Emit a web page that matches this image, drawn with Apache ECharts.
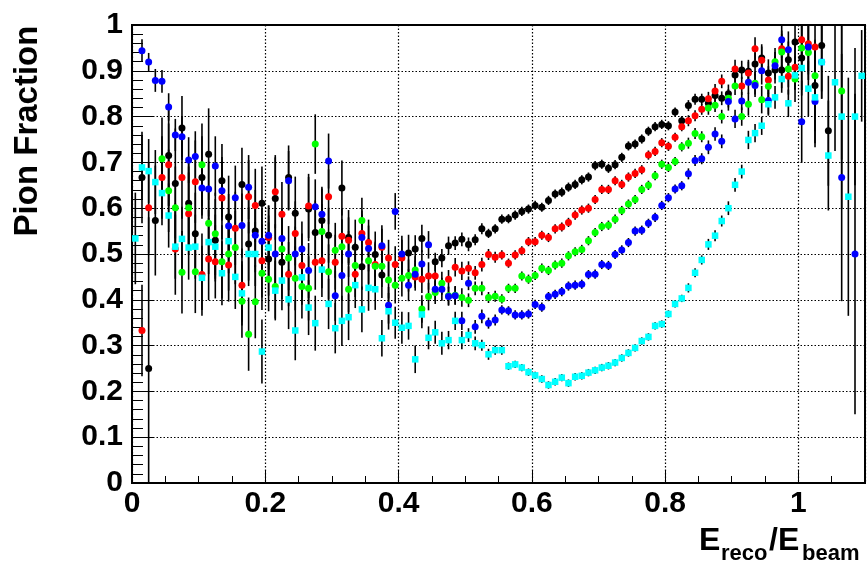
<!DOCTYPE html>
<html>
<head>
<meta charset="utf-8">
<script src="https://cdn.jsdelivr.net/npm/echarts@6/dist/echarts.min.js"></script>
<style>html,body{margin:0;padding:0;background:#fff}#c{width:867px;height:567px}</style>
</head>
<body>
<div id="c"></div>
<script>
const binCenters = [0.005,0.015,0.025,0.035,0.045,0.055,0.065,0.075,0.085,0.095,
0.105,0.115,0.125,0.135,0.145,0.155,0.165,0.175,0.185,0.195,
0.205,0.215,0.225,0.235,0.245,0.255,0.265,0.275,0.285,0.295,
0.305,0.315,0.325,0.335,0.345,0.355,0.365,0.375,0.385,0.395,
0.405,0.415,0.425,0.435,0.445,0.455,0.465,0.475,0.485,0.495,
0.505,0.515,0.525,0.535,0.545,0.555,0.565,0.575,0.585,0.595,
0.605,0.615,0.625,0.635,0.645,0.655,0.665,0.675,0.685,0.695,
0.705,0.715,0.725,0.735,0.745,0.755,0.765,0.775,0.785,0.795,
0.805,0.815,0.825,0.835,0.845,0.855,0.865,0.875,0.885,0.895,
0.905,0.915,0.925,0.935,0.945,0.955,0.965,0.975,0.985,0.995,
1.005,1.015,1.025,1.035,1.045,1.055,1.065,1.075,1.085,1.095];

const blackVals = [null,0.667,0.250,0.573,null,0.715,0.654,0.775,0.611,0.544,
0.667,0.718,0.530,0.660,0.581,null,0.652,0.522,0.550,0.611,
0.489,0.621,0.482,0.667,0.589,null,0.598,0.547,0.573,0.541,
null,0.644,0.536,0.515,0.472,null,0.499,0.454,null,null,
null,0.502,0.511,0.534,null,0.483,0.491,0.518,0.524,0.532,
0.521,0.531,0.555,0.545,0.555,0.576,0.577,0.585,0.593,0.598,
0.606,0.602,0.617,0.631,0.635,0.646,0.652,0.662,0.668,0.693,
0.696,0.687,0.695,0.711,0.736,0.740,0.751,0.768,0.778,0.783,
0.780,0.810,0.791,0.824,0.838,0.838,0.829,0.846,0.840,0.850,
0.891,0.902,0.899,0.915,0.928,0.895,0.902,0.902,0.924,0.963,
0.928,null,0.868,0.955,0.769,null,null,null,null,null];
const blackErr = [0,0.10,0.33,0.12,0.10,0.11,0.12,0.07,0.10,0.09,
0.09,0.10,0.09,0.08,0.09,0.09,0.08,0.08,0.09,0.08,
0.08,0.09,0.08,0.07,0.08,0.07,0.07,0.07,0.07,0.06,
0.06,0.06,0.06,0.06,0.05,0.05,0.05,0.05,0.05,0.04,
0.04,0.04,0.03,0.03,0.03,0.02,0.02,0.02,0.015,0.015,
0.015,0.012,0.012,0.01,0.01,0.01,0.01,0.01,0.01,0.01,
0.01,0.01,0.01,0.01,0.01,0.01,0.01,0.01,0.01,0.01,
0.01,0.01,0.01,0.01,0.01,0.01,0.01,0.01,0.01,0.01,
0.01,0.01,0.01,0.012,0.012,0.012,0.015,0.015,0.015,0.02,
0.02,0.02,0.025,0.025,0.03,0.03,0.03,0.04,0.04,0.05,
0.07,0,0.1,0.1,0.12,0,0,0,0,0];

const redVals = [null,0.333,0.601,null,0.667,0.695,0.511,0.667,0.588,0.658,
0.455,0.489,0.483,0.622,0.476,0.556,0.432,0.625,0.606,0.485,
0.536,0.636,0.587,0.456,0.545,0.475,0.605,0.482,0.485,0.625,
0.482,0.539,0.530,0.456,0.545,0.525,0.477,0.515,0.491,0.477,
0.491,null,0.450,0.445,0.452,0.452,null,0.445,0.471,0.463,
0.469,0.459,0.477,0.499,0.493,0.498,0.480,0.498,0.507,0.527,
0.527,0.541,0.536,0.555,0.559,0.569,0.585,0.596,0.600,0.619,
0.641,0.641,0.660,0.652,0.668,0.676,0.684,0.716,0.724,0.743,
0.735,0.755,0.778,0.791,0.802,0.816,0.839,0.856,0.877,null,
0.904,0.867,0.895,0.948,0.923,0.880,null,0.948,0.888,0.908,
0.968,0.959,0.952,null,null,null,null,null,null,null];
const redErr = [0,0.10,0.10,0,0.09,0.09,0.10,0.09,0.09,0.09,
0.09,0.09,0.08,0.09,0.08,0.08,0.08,0.08,0.08,0.08,
0.07,0.08,0.07,0.07,0.07,0.07,0.07,0.06,0.06,0.06,
0.06,0.06,0.05,0.05,0.05,0.05,0.05,0.04,0.04,0.04,
0.04,0,0.03,0.03,0.03,0.025,0,0.02,0.02,0.02,
0.015,0.015,0.015,0.012,0.012,0.01,0.01,0.01,0.01,0.01,
0.01,0.01,0.01,0.01,0.01,0.01,0.01,0.01,0.01,0.01,
0.01,0.01,0.01,0.01,0.01,0.01,0.01,0.01,0.01,0.01,
0.01,0.01,0.01,0.012,0.012,0.012,0.015,0.015,0.015,0,
0.02,0.02,0.025,0.025,0.03,0.03,0,0.04,0.04,0.05,
0.05,0.06,0.07,0,0,0,0,0,0,0];

const greenVals = [null,null,null,null,0.708,0.638,0.601,0.460,0.601,0.461,
0.695,0.567,0.544,0.483,0.500,0.514,0.397,0.325,0.396,0.458,
0.445,0.429,0.511,0.491,0.447,0.429,0.425,0.740,0.549,0.461,
0.508,0.516,0.423,0.475,0.573,0.485,0.473,0.473,0.443,0.432,
0.447,0.453,0.465,0.380,0.407,0.416,0.436,0.409,0.410,0.405,
0.399,0.425,0.425,0.405,0.408,0.402,0.425,0.425,0.452,0.445,
0.453,0.469,0.464,0.476,0.480,0.496,0.505,0.510,0.529,0.547,
0.560,0.563,0.576,0.595,0.609,0.619,0.641,0.650,0.671,0.696,
0.689,0.702,0.734,0.742,0.763,0.756,0.819,0.825,0.800,0.840,
0.867,0.800,0.827,0.873,0.837,0.866,0.920,0.941,0.904,0.882,
0.950,0.940,0.889,null,null,null,0.856,null,null,null];
const greenErr = [0,0,0,0,0.09,0.09,0.09,0.09,0.09,0.09,
0.09,0.08,0.09,0.08,0.08,0.08,0.08,0.08,0.08,0.08,
0.07,0.07,0.07,0.07,0.07,0.07,0.07,0.065,0.06,0.06,
0.06,0.06,0.05,0.05,0.05,0.05,0.05,0.045,0.04,0.04,
0.04,0.035,0.03,0.03,0.03,0.025,0.025,0.02,0.02,0.02,
0.015,0.015,0.015,0.012,0.012,0.01,0.01,0.01,0.01,0.01,
0.01,0.01,0.01,0.01,0.01,0.01,0.01,0.01,0.01,0.01,
0.01,0.01,0.01,0.01,0.01,0.01,0.01,0.01,0.01,0.01,
0.01,0.01,0.01,0.012,0.012,0.012,0.015,0.015,0.015,0.02,
0.02,0.02,0.025,0.025,0.03,0.03,0.03,0.04,0.04,0.05,
0.05,0.06,0.07,0,0,0,0.15,0,0,0];

const blueVals = [null,0.944,0.919,0.879,0.877,0.821,0.760,0.756,0.705,0.713,
0.644,0.642,0.692,0.638,0.561,0.623,0.562,0.646,0.541,0.528,
0.541,0.500,0.534,0.660,0.500,0.511,0.464,0.603,0.587,0.703,
0.409,0.453,0.500,null,0.536,0.512,null,0.518,0.388,0.593,
0.500,0.432,0.456,0.478,0.520,0.423,0.423,0.407,0.409,0.354,
0.436,0.341,0.364,0.349,0.356,0.378,0.376,0.367,0.367,0.369,
0.390,0.384,0.407,0.412,0.418,0.430,0.432,0.434,0.455,0.456,
0.477,0.475,0.499,0.509,0.525,0.550,0.552,0.567,0.580,0.606,
0.623,0.642,0.649,0.675,0.704,0.708,0.733,0.762,0.746,0.833,
0.795,0.834,0.875,0.868,0.900,0.835,0.911,0.968,0.946,null,
0.789,0.952,0.833,0.919,null,null,0.667,null,0.500,null];
const blueErr = [0,0.025,0.02,0.025,0.025,0.03,0.035,0.045,0.05,0.055,
0.06,0.06,0.065,0.065,0.07,0.07,0.07,0.07,0.07,0.07,
0.065,0.065,0.065,0.065,0.06,0.06,0.06,0.06,0.06,0.06,
0.055,0.055,0.05,0,0.05,0.05,0,0.045,0.04,0.04,
0.04,0.035,0.03,0.03,0.03,0.025,0.025,0.02,0.02,0.02,
0.015,0.015,0.015,0.012,0.012,0.01,0.01,0.01,0.01,0.01,
0.01,0.01,0.01,0.01,0.01,0.01,0.01,0.01,0.01,0.01,
0.01,0.01,0.01,0.01,0.01,0.01,0.01,0.01,0.01,0.01,
0.01,0.01,0.01,0.012,0.012,0.012,0.015,0.015,0.015,0.02,
0.02,0.02,0.025,0.025,0.03,0.03,0.03,0.04,0.04,0,
0.09,0.06,0.1,0.08,0,0,0.27,0,0.35,0];

const cyanVals = [0.534,0.689,0.681,0.657,0.633,0.584,0.516,0.533,0.514,0.516,
0.448,0.526,0.516,0.458,0.528,0.450,0.414,0.500,0.500,0.287,
0.514,0.420,0.442,0.401,0.333,0.449,0.383,0.349,0.466,0.391,
0.338,0.354,0.362,0.432,0.379,0.426,0.423,0.316,0.375,0.350,
0.339,0.343,0.270,0.368,0.317,0.329,0.305,0.312,0.354,0.312,
0.323,0.305,0.301,0.281,0.290,0.290,0.255,0.259,0.252,0.242,
0.235,0.227,0.214,0.221,0.230,0.218,0.232,0.234,0.241,0.246,
0.252,0.256,0.263,0.273,0.284,0.295,0.310,0.319,0.343,0.347,
0.369,0.391,0.403,0.426,0.459,0.487,0.521,0.540,0.572,0.600,
0.651,0.680,0.749,0.764,0.780,0.827,0.842,0.882,0.829,0.890,
0.906,0.861,0.842,0.919,0.715,0.875,0.800,0.625,0.800,0.889];
const cyanErr = [0.1,0.07,0.07,0.07,0.07,0.07,0.07,0.07,0.07,0.07,
0.07,0.07,0.07,0.07,0.07,0.07,0.07,0.07,0.07,0.07,
0.07,0.065,0.065,0.065,0.065,0.06,0.06,0.06,0.06,0.055,
0.055,0.055,0.05,0.05,0.05,0.05,0.045,0.04,0.04,0.035,
0.035,0.03,0.03,0.03,0.025,0.025,0.025,0.02,0.02,0.02,
0.015,0.015,0.012,0.012,0.01,0.01,0.008,0.008,0.008,0.008,
0.008,0.008,0.008,0.008,0.008,0.008,0.008,0.008,0.008,0.008,
0.008,0.008,0.008,0.008,0.008,0.008,0.008,0.008,0.008,0.008,
0.008,0.008,0.008,0.01,0.01,0.01,0.012,0.012,0.012,0.015,
0.015,0.015,0.02,0.02,0.02,0.025,0.025,0.03,0.03,0.03,
0.06,0.06,0.1,0.08,0.12,0.15,0.2,0.26,0.15,0.1];

const yTicks = [0,0.1,0.2,0.3,0.4,0.5,0.6,0.7,0.8,0.9,1];
const xTicks = [0,0.2,0.4,0.6,0.8,1];

const seriesDefs = [
  {name:'black', vals:blackVals, errs:blackErr, color:'#000000', symbol:'circle', size:7},
  {name:'red', vals:redVals, errs:redErr, color:'#ff0000', symbol:'circle', size:7},
  {name:'green', vals:greenVals, errs:greenErr, color:'#00ff00', symbol:'circle', size:7},
  {name:'blue', vals:blueVals, errs:blueErr, color:'#0000ff', symbol:'circle', size:7},
  {name:'cyan', vals:cyanVals, errs:cyanErr, color:'#00ffff', symbol:'rect', size:6.5}
];

function build(vals, errs){
  const out = [];
  vals.forEach((v,i)=>{ if (v !== null) out.push([binCenters[i], v, errs[i]]); });
  return out;
}

const FONT = '"Liberation Sans", Arial, Helvetica, sans-serif';
const series = [];
seriesDefs.forEach(d=>{
  const data = build(d.vals, d.errs);
  series.push({
    type:'custom', name:d.name+'-err', xAxisIndex:0, yAxisIndex:0, clip:true,
    encode:{x:0, y:1},
    renderItem:function(params, api){
      const x = api.value(0), y = api.value(1), e = api.value(2);
      if (!e) return null;
      const lo = api.coord([x, y - e]), hi = api.coord([x, y + e]);
      return {type:'line', shape:{x1:lo[0], y1:lo[1], x2:hi[0], y2:hi[1]},
              style:{stroke:'#000', lineWidth:1.6}};
    },
    data:data, silent:true
  });
  series.push({
    type:'scatter', name:d.name, xAxisIndex:0, yAxisIndex:0,
    symbol:d.symbol, symbolSize:d.size, encode:{x:0, y:1},
    itemStyle:{color:d.color, opacity:1}, data:data, silent:true, clip:true
  });
});

const chart = echarts.init(document.getElementById('c'), null, {renderer:'canvas'});
chart.setOption({
  animation:false,
  backgroundColor:'#ffffff',
  grid:{left:132, right:2, top:25, bottom:84, show:true, borderColor:'#000', borderWidth:2, containLabel:false, outerBoundsMode:'none'},
  xAxis:[{
    type:'value', min:0, max:1.1, interval:0.2, position:'bottom',
    axisLine:{show:true, onZero:false, lineStyle:{color:'#000', width:2}},
    axisTick:{show:true, inside:true, length:13, lineStyle:{color:'#000', width:1}},
    minorTick:{show:false},
    splitLine:{show:true, lineStyle:{color:'#000', width:1.2, type:[1.5,2]}},
    axisLabel:{show:true, margin:6, showMaxLabel:false, color:'#000', fontSize:30, fontWeight:'bold', fontFamily:FONT,
      formatter:function(v){ return xTicks.indexOf(Math.round(v*10)/10) >= 0 ? String(Math.round(v*10)/10) : ''; }}
  },{
    type:'value', min:0, max:1.1, interval:0.05, position:'bottom',
    axisLine:{show:false}, axisLabel:{show:false}, splitLine:{show:false},
    axisTick:{show:true, inside:true, length:7, lineStyle:{color:'#000', width:1}}
  }],
  yAxis:[{
    type:'value', min:0, max:1, interval:0.1, position:'left',
    axisLine:{show:true, onZero:false, lineStyle:{color:'#000', width:2}},
    axisTick:{show:true, inside:true, length:22, lineStyle:{color:'#000', width:1}},
    minorTick:{show:true, splitNumber:5, length:11, lineStyle:{color:'#000', width:1}},
    splitLine:{show:true, lineStyle:{color:'#000', width:1.2, type:[1.5,2]}},
    axisLabel:{show:true, margin:9, color:'#000', fontSize:30, fontWeight:'bold', fontFamily:FONT,
      formatter:function(v){ const r = Math.round(v*10)/10; return yTicks.indexOf(r) >= 0 ? String(r) : ''; }}
  }],
  graphic:[
    {type:'text', x:28, y:131, rotation:Math.PI/2,
     style:{text:'Pion Fraction', font:'bold 33px '+FONT, fill:'#000', align:'center', verticalAlign:'middle'}},
    {type:'text', x:699, y:541, style:{text:'E', font:'bold 32px '+FONT, fill:'#000', align:'left', verticalAlign:'middle'}},
    {type:'text', x:721, y:554, style:{text:'reco', font:'bold 22px '+FONT, fill:'#000', align:'left', verticalAlign:'middle'}},
    {type:'text', x:769, y:541, style:{text:'/E', font:'bold 32px '+FONT, fill:'#000', align:'left', verticalAlign:'middle'}},
    {type:'text', x:802, y:554, style:{text:'beam', font:'bold 22px '+FONT, fill:'#000', align:'left', verticalAlign:'middle'}}
  ],
  series:series
});
</script>
</body>
</html>
